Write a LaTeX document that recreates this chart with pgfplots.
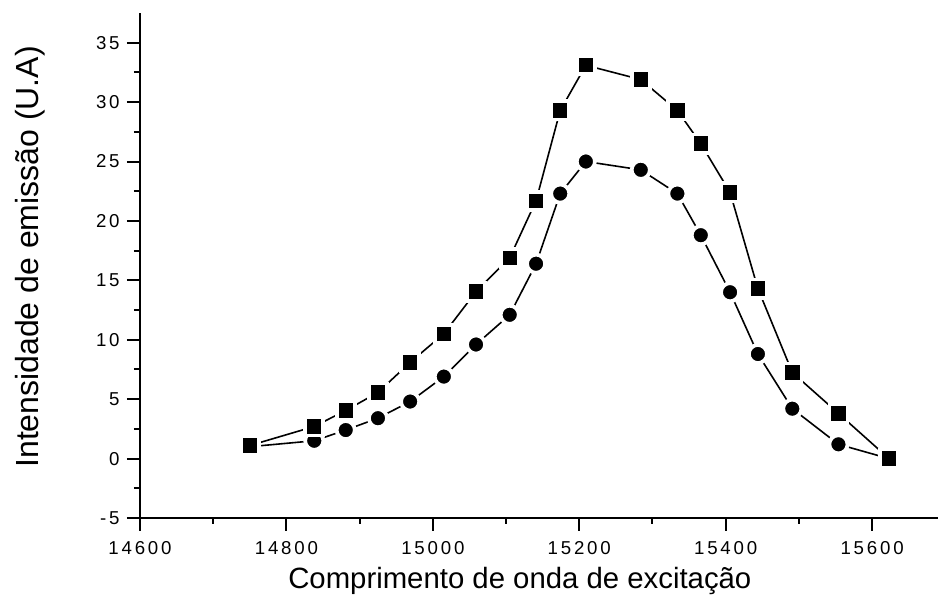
\documentclass[border=0pt]{standalone}
\usepackage{fontspec}
\setmainfont{Liberation Sans}
\newfontfamily\tickfont[LetterSpace=15]{Liberation Sans}
\usepackage{pgfplots}
\usepackage{pgfplotstable}
\pgfplotsset{compat=1.18}
\pgfplotstableread{
x y
14750 1.1
14838 2.7
14881 4.05
14925 5.56
14969 8.1
15015 10.5
15059 14.05
15105 16.9
15141 21.7
15174 29.3
15209 33.1
15284 31.9
15334 29.3
15366 26.5
15406 22.4
15444 14.3
15491 7.25
15554 3.8
15623 0
}\squares
\pgfplotstableread{
x y
14750 1.0
14838 1.5
14881 2.4
14925 3.4
14969 4.8
15015 6.9
15059 9.6
15105 12.1
15141 16.4
15174 22.3
15209 25.0
15284 24.3
15334 22.3
15366 18.8
15406 14.0
15444 8.8
15491 4.2
15554 1.2
15623 0
}\circles
\begin{document}
\begin{tikzpicture}
\begin{axis}[
  scale only axis,
  width=598.5pt, height=378.75pt,
  xmin=14600, xmax=15690,
  ymin=-5, ymax=37.5,
  axis x line*=bottom, axis y line*=left,
  axis line style={-, line width=1.5pt},
  every tick/.style={black, line width=1.5pt},
  tick align=outside,
  major tick length=9.75pt, minor tick length=4.5pt,
  xtick={14600,14800,...,15600},
  ytick={-5,0,...,35},
  minor x tick num=1, minor y tick num=1,
  scaled x ticks=false,
  /pgf/number format/1000 sep={},
  /pgf/number format/assume math mode=true,
  tick label style={font=\tickfont\fontsize{14pt}{16pt}\selectfont},
  xticklabel style={yshift=-4pt},
  yticklabel style={xshift=-2pt},
  xlabel={Comprimento de onda de excitação},
  ylabel={Intensidade de emissão (U.A)},
  xlabel style={font=\fontsize{22pt}{26pt}\selectfont, at={(axis description cs:0.476,-0.125)}, anchor=center},
  ylabel style={font=\fontsize{24pt}{27pt}\selectfont, at={(axis description cs:-0.138,0.517)}, anchor=center},
  clip=false,
]
\addplot[black, line width=1.2pt, mark=*, mark size=6.8pt,
  mark options={fill=black, draw=white, line width=2.8pt}] table[x=x,y=y] {\circles};
\addplot[black, line width=1.2pt, mark=square*, mark size=6.8pt,
  mark options={fill=black, draw=white, line width=2.8pt}] table[x=x,y=y] {\squares};
\end{axis}
\pgfresetboundingbox
\path ([shift={(-105pt,-66pt)}]current axis.south west) rectangle ([shift={(1.5pt,9.75pt)}]current axis.north east);
\end{tikzpicture}
\end{document}
